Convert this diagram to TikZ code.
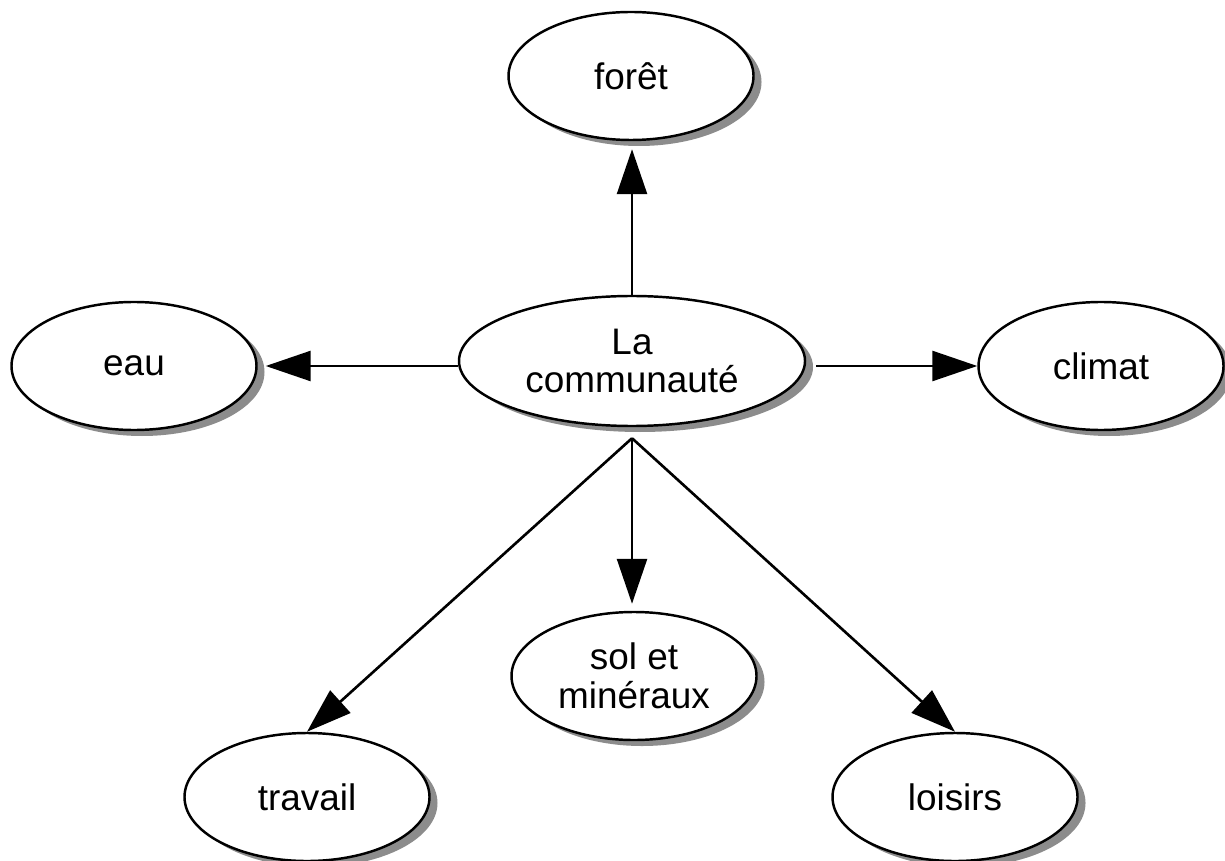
\documentclass[tikz,border=0pt]{standalone}
\usepackage{fontspec}
\setmainfont{Liberation Sans}
\usetikzlibrary{shapes.geometric,shadows,arrows.meta}

\begin{document}
\begin{tikzpicture}[line width=0.75pt,
        topic/.style = {ellipse,
        draw, fill=white,
        line width=0.7pt,
        inner sep=0pt,
        minimum width=2.45cm,
        minimum height=1.28cm,
        align=center,
        font=\fontsize{10.5}{11}\selectfont,
        drop shadow={shadow xshift=0.08cm, shadow yshift=-0.06cm,
            fill=black!45, opacity=1}},
        link/.style = {-{Triangle[length=0.45cm, width=0.3cm]}}]

        \useasboundingbox (0,0) rectangle (12.25,8.6);

        % Centre
        \node [topic, minimum width=3.46cm, minimum height=1.30cm] (com) at (6.32,4.99) {La\\communaut\'e};
        \coordinate (hub) at ([yshift=-0.11cm]com.south);

        % Around it
        \node [topic] (foret) at (6.31,7.84) {for\^et};
        \node [topic] (eau) at (1.34,4.94) {eau};
        \node [topic] (climat) at (11.01,4.94) {climat};
        \node [topic] (sol) at (6.34,1.84) {sol et\\min\'eraux};
        \node [topic] (travail) at (3.07,0.63) {travail};
        \node [topic] (loisirs) at (9.55,0.63) {loisirs};

        % Arrows
        \draw [link, shorten >=0.08cm] (com.north) -- (com.north |- foret.south);
        \draw [link, shorten >=0.08cm] (com.west |- eau.east) -- (eau.east);
        \draw [link, shorten <=0.10cm] (com.east |- climat.west) -- (climat.west);
        \draw [link, shorten >=0.07cm] (hub) -- (hub |- sol.north);
        \draw [link] (hub) -- (travail.north);
        \draw [link] (hub) -- (loisirs.north);

    \end{tikzpicture}
\end{document}
